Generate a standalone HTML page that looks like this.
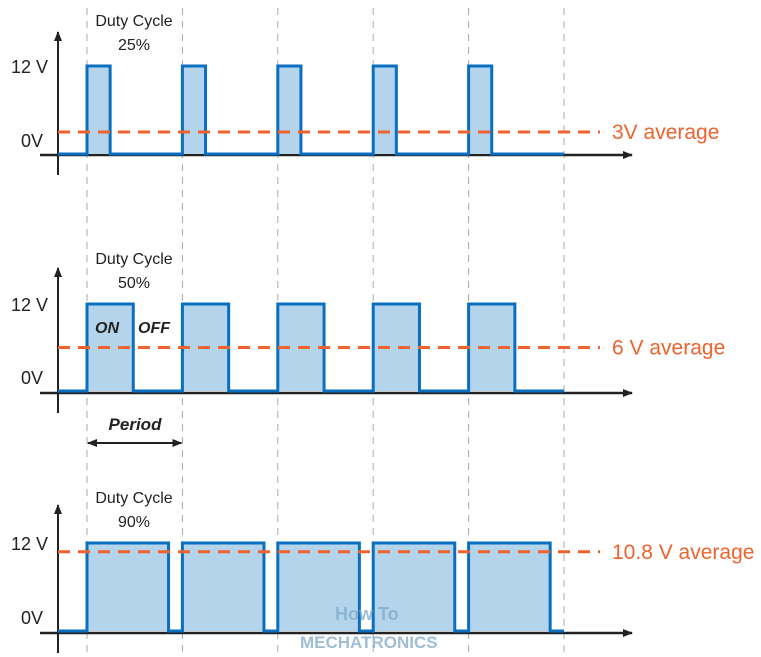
<!DOCTYPE html>
<html><head><meta charset="utf-8"><style>
body{margin:0;background:#fff;}
svg{display:block;font-family:"Liberation Sans",sans-serif;}
</style></head><body>
<svg id="c" width="761" height="657" viewBox="0 0 761 657" xmlns="http://www.w3.org/2000/svg">
<defs><marker id="ah" markerWidth="10" markerHeight="8" refX="9" refY="4" orient="auto" markerUnits="userSpaceOnUse"><path d="M0,0 L10,4 L0,8 Z" fill="#222"/></marker>
<marker id="ahs" markerWidth="10" markerHeight="8" refX="1" refY="4" orient="auto" markerUnits="userSpaceOnUse"><path d="M10,0 L0,4 L10,8 Z" fill="#222"/></marker></defs>
<g id="grid"></g><g id="panels"></g>
</svg>
<script>
const dutyCycles=[25,50,90];
const averageVolts=[3,6,10.8];
const avgLabels=["3V average","6 V average","10.8 V average"];
const periodCount=5;
const maxVolt=12;
const ns="http://www.w3.org/2000/svg";
const svg=document.getElementById('c');
const grid=document.getElementById('grid');
const panelsG=document.getElementById('panels');
function mk(tag,attrs,parent){const e=document.createElementNS(ns,tag);for(const k in attrs)e.setAttribute(k,attrs[k]);parent.appendChild(e);return e;}
const x0=87,periodPx=95.4;
function xScale(t){return x0+t*periodPx;}
const panelY=[{hi:66,lo:154,base:155,axTop:32,t1:26,t2:50},{hi:304,lo:391,base:393,axTop:268,t1:264,t2:288},{hi:543,lo:631,base:633,axTop:505,t1:503,t2:527}];
for(let i=0;i<=periodCount;i++){
  const l=mk('line',{x1:xScale(i),x2:xScale(i),y1:8,y2:657,stroke:'#aaa','stroke-width':1,'stroke-dasharray':'7,6'},grid);
  
  
}
dutyCycles.forEach((d,p)=>{
  const P=panelY[p];
  const g=mk('g',{},panelsG);
  
  
  function yScale(v){return P.lo-(v/maxVolt)*(P.lo-P.hi);}
  const ya=mk('line',{x1:58,x2:58,y1:P.base+20,y2:P.axTop,stroke:'#222','stroke-width':2,'marker-end':'url(#ah)'},g);
  
  const xa=mk('line',{x1:40,x2:632,y1:P.base,y2:P.base,stroke:'#222','stroke-width':2.5,'marker-end':'url(#ah)'},g);
  
  const w=d/100*periodPx*(d>80?0.95:0.97);
  let path='M58,'+yScale(0);
  for(let i=0;i<periodCount;i++){
    const a=xScale(i),b=a+w;
    const r=mk('rect',{x:a,y:yScale(maxVolt),width:w,height:yScale(0)-yScale(maxVolt),fill:'#b3d4ea'},g);
    
    path+=` L${a},${yScale(0)} L${a},${yScale(maxVolt)} L${b},${yScale(maxVolt)} L${b},${yScale(0)}`;
  }
  path+=` L${xScale(periodCount)},${yScale(0)}`;
  const s=mk('path',{d:path,fill:'none',stroke:'#0a6fc0','stroke-width':3},g);
  
  const ay=yScale(averageVolts[p]);
  const al=mk('line',{x1:58,x2:600,y1:ay,y2:ay,stroke:'#f0622d','stroke-width':3,'stroke-dasharray':'12,8'},g);
  
  const at=mk('text',{x:612,y:ay+7,fill:'#f0622d','font-size':21},g);at.textContent=avgLabels[p];
  
  const t12=mk('text',{x:11,y:P.hi+7,'font-size':18,fill:'#222'},g);t12.textContent='12 V';
  
  const t0=mk('text',{x:21,y:P.lo-7,'font-size':18,fill:'#222'},g);t0.textContent='0V';
  
  const dc=mk('text',{x:134,y:P.t1,'font-size':16,fill:'#222','text-anchor':'middle'},g);dc.textContent='Duty Cycle';
  
  const dp=mk('text',{x:134,y:P.t2,'font-size':16,fill:'#222','text-anchor':'middle'},g);dp.textContent=d+'%';
  
});
const on=mk('text',{x:95,y:333,'font-size':16,'font-style':'italic','font-weight':'bold',fill:'#222'},svg);on.textContent='ON';

const off=mk('text',{x:138,y:333,'font-size':16,'font-style':'italic','font-weight':'bold',fill:'#222'},svg);off.textContent='OFF';

const pt=mk('text',{x:135,y:430,'font-size':17,'font-style':'italic','font-weight':'bold',fill:'#222','text-anchor':'middle'},svg);pt.textContent='Period';

const pa=mk('line',{x1:xScale(0)+1,x2:xScale(1)-1,y1:443,y2:443,stroke:'#222','stroke-width':2,'marker-end':'url(#ah)','marker-start':'url(#ahs)'},svg);

const wm=mk('text',{x:335,y:620,'font-size':18,'font-weight':'bold',fill:'#7fa9c9',opacity:0.75},svg);wm.textContent='How To';

const wm2=mk('text',{x:300,y:648,'font-size':17,'font-weight':'bold',fill:'#7fa9c9',opacity:0.75},svg);wm2.textContent='MECHATRONICS';

</script>
</body></html>
